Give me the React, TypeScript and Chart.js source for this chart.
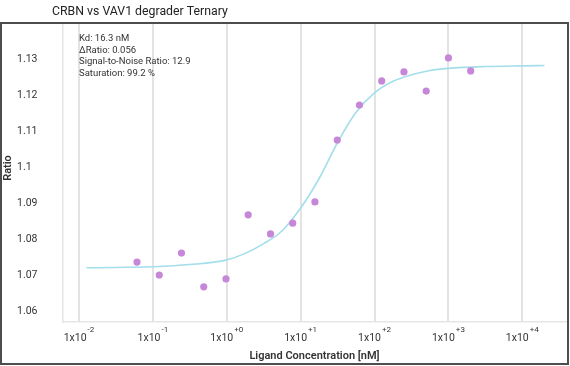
import React, { useEffect, useRef } from 'react';
import { Chart, registerables } from 'chart.js';

Chart.register(...registerables);

const TITLE = 'CRBN vs VAV1 degrader Ternary';
const X_TITLE = 'Ligand Concentration [nM]';
const Y_TITLE = 'Ratio';
const STATS = ['Kd: 16.3 nM', 'ΔRatio: 0.056', 'Signal-to-Noise Ratio: 12.9', 'Saturation: 99.2 %'];

const CONCENTRATIONS_NM = [0.061, 0.122, 0.244, 0.488, 0.977, 1.95, 3.91, 7.81, 15.6, 31.3, 62.5, 125, 250, 500, 1000, 2000];
const RATIOS = [1.0736, 1.07, 1.0761, 1.0667, 1.0689, 1.0867, 1.0814, 1.0844, 1.0903, 1.1075, 1.1172, 1.1239, 1.1264, 1.1211, 1.1303, 1.1267];

const FIT_CONC_NM = [0.0126, 0.0316, 0.1, 0.316, 1, 1.78, 3.16, 5.62, 10, 17.8, 31.6, 56.2, 100, 178, 316, 562, 1000, 3162, 10000, 19953];
const FIT_RATIO = [1.072, 1.0721, 1.0723, 1.0729, 1.0742, 1.076, 1.0787, 1.0823, 1.0886, 1.0968, 1.1068, 1.1152, 1.1206, 1.1238, 1.1256, 1.1268, 1.1274, 1.1279, 1.1281, 1.1282];

const X_DECADES = [0.01, 0.1, 1, 10, 100, 1000, 10000];
const X_EXPONENTS = ['-2', '-1', '+0', '+1', '+2', '+3', '+4'];
const Y_TICKS = [1.06, 1.07, 1.08, 1.09, 1.1, 1.11, 1.12, 1.13];
const Y_TICK_LABELS = ['1.06', '1.07', '1.08', '1.09', '1.1', '1.11', '1.12', '1.13'];

const FONT = 'Roboto, "Noto Sans", sans-serif';

const textPlugin = {
  id: 'customText',
  afterDraw(chart: any) {
    const ctx = chart.ctx as CanvasRenderingContext2D;
    const xs = chart.scales.x;
    const ys = chart.scales.y;
    const area = chart.chartArea;
    ctx.save();
    // frame
    ctx.strokeStyle = '#4d4d4d';
    ctx.lineWidth = 2;
    ctx.strokeRect(1, 23, 567, 341);
    // title
    ctx.fillStyle = '#222';
    ctx.font = `12.3px ${FONT}`;
    ctx.textAlign = 'left';
    ctx.textBaseline = 'middle';
    ctx.fillText(TITLE, 52, 12);
    // stats
    ctx.fillStyle = '#333';
    ctx.font = `9.5px ${FONT}`;
    STATS.forEach((s, i) => ctx.fillText(s, 79, 39 + i * 11.4));
    // y ticks
    ctx.font = `10.5px ${FONT}`;
    ctx.fillStyle = '#333';
    Y_TICKS.forEach((v, i) => {
      ctx.fillText(Y_TICK_LABELS[i], 17, ys.getPixelForValue(v));
    });
    // x ticks
    X_DECADES.forEach((v, i) => {
      const px = xs.getPixelForValue(v);
      ctx.font = `10.5px ${FONT}`;
      const base = '1x10';
      const wb = ctx.measureText(base).width;
      ctx.font = `8px ${FONT}`;
      const we = ctx.measureText(X_EXPONENTS[i]).width;
      const start = px - (wb + we + 1) / 2;
      ctx.font = `10.5px ${FONT}`;
      ctx.textAlign = 'left';
      ctx.fillText(base, start, 338);
      ctx.font = `8px ${FONT}`;
      ctx.fillText(X_EXPONENTS[i], start + wb + 1, 330);
    });
    // x title
    ctx.font = `600 11px ${FONT}`;
    ctx.textAlign = 'center';
    ctx.fillStyle = '#333';
    ctx.fillText(X_TITLE, (area.left + area.right) / 2, 356);
    // y title
    ctx.translate(8, 168);
    ctx.rotate(-Math.PI / 2);
    ctx.fillText(Y_TITLE, 0, 0);
    ctx.restore();
  },
};

export default function App() {
  const ref = useRef<HTMLCanvasElement>(null);
  useEffect(() => {
    document.body.style.margin = '0';
    const canvas = ref.current!;
    const chart = new Chart(canvas, {
      type: 'scatter',
      data: {
        datasets: [
          {
            label: 'Data',
            data: CONCENTRATIONS_NM.map((c, i) => ({ x: c, y: RATIOS[i] })),
            backgroundColor: '#c787d8',
            borderColor: '#c787d8',
            pointRadius: 3.6,
            pointBorderWidth: 0,
            showLine: false,
          },
          {
            label: 'Fit',
            data: FIT_CONC_NM.map((c, i) => ({ x: c, y: FIT_RATIO[i] })),
            borderColor: '#a3deea',
            backgroundColor: '#a3deea',
            borderWidth: 1.6,
            pointRadius: 0,
            showLine: true,
            cubicInterpolationMode: 'monotone',
          } as any,
        ],
      },
      options: {
        animation: false,
        responsive: false,
        events: [],
        layout: { padding: { left: 63, right: 2, top: 23, bottom: 44 } },
        plugins: { legend: { display: false }, title: { display: false }, tooltip: { enabled: false } },
        scales: {
          x: {
            type: 'logarithmic',
            min: 0.00608,
            max: 39000,
            afterBuildTicks: (scale: any) => {
              scale.ticks = X_DECADES.map((v) => ({ value: v }));
            },
            afterFit: (scale: any) => {
              scale.height = 0;
            },
            ticks: { display: false },
            grid: { display: true, color: '#e3e3e3', lineWidth: 2, drawTicks: false },
            border: { display: true, color: '#e6e6e6', width: 1.5 },
            title: { display: false },
          },
          y: {
            type: 'linear',
            min: 1.05694,
            max: 1.14,
            afterFit: (scale: any) => {
              scale.width = 0;
            },
            ticks: { display: false },
            grid: { display: false, drawTicks: false },
            border: { display: true, color: '#e6e6e6', width: 1.5 },
            title: { display: false },
          },
        },
      } as any,
      plugins: [textPlugin],
    });
    return () => chart.destroy();
  }, []);
  return (
    <div style={{ width: 570, height: 366, background: '#fff' }}>
      <canvas ref={ref} width={570} height={366} style={{ display: 'block' }} />
    </div>
  );
}
